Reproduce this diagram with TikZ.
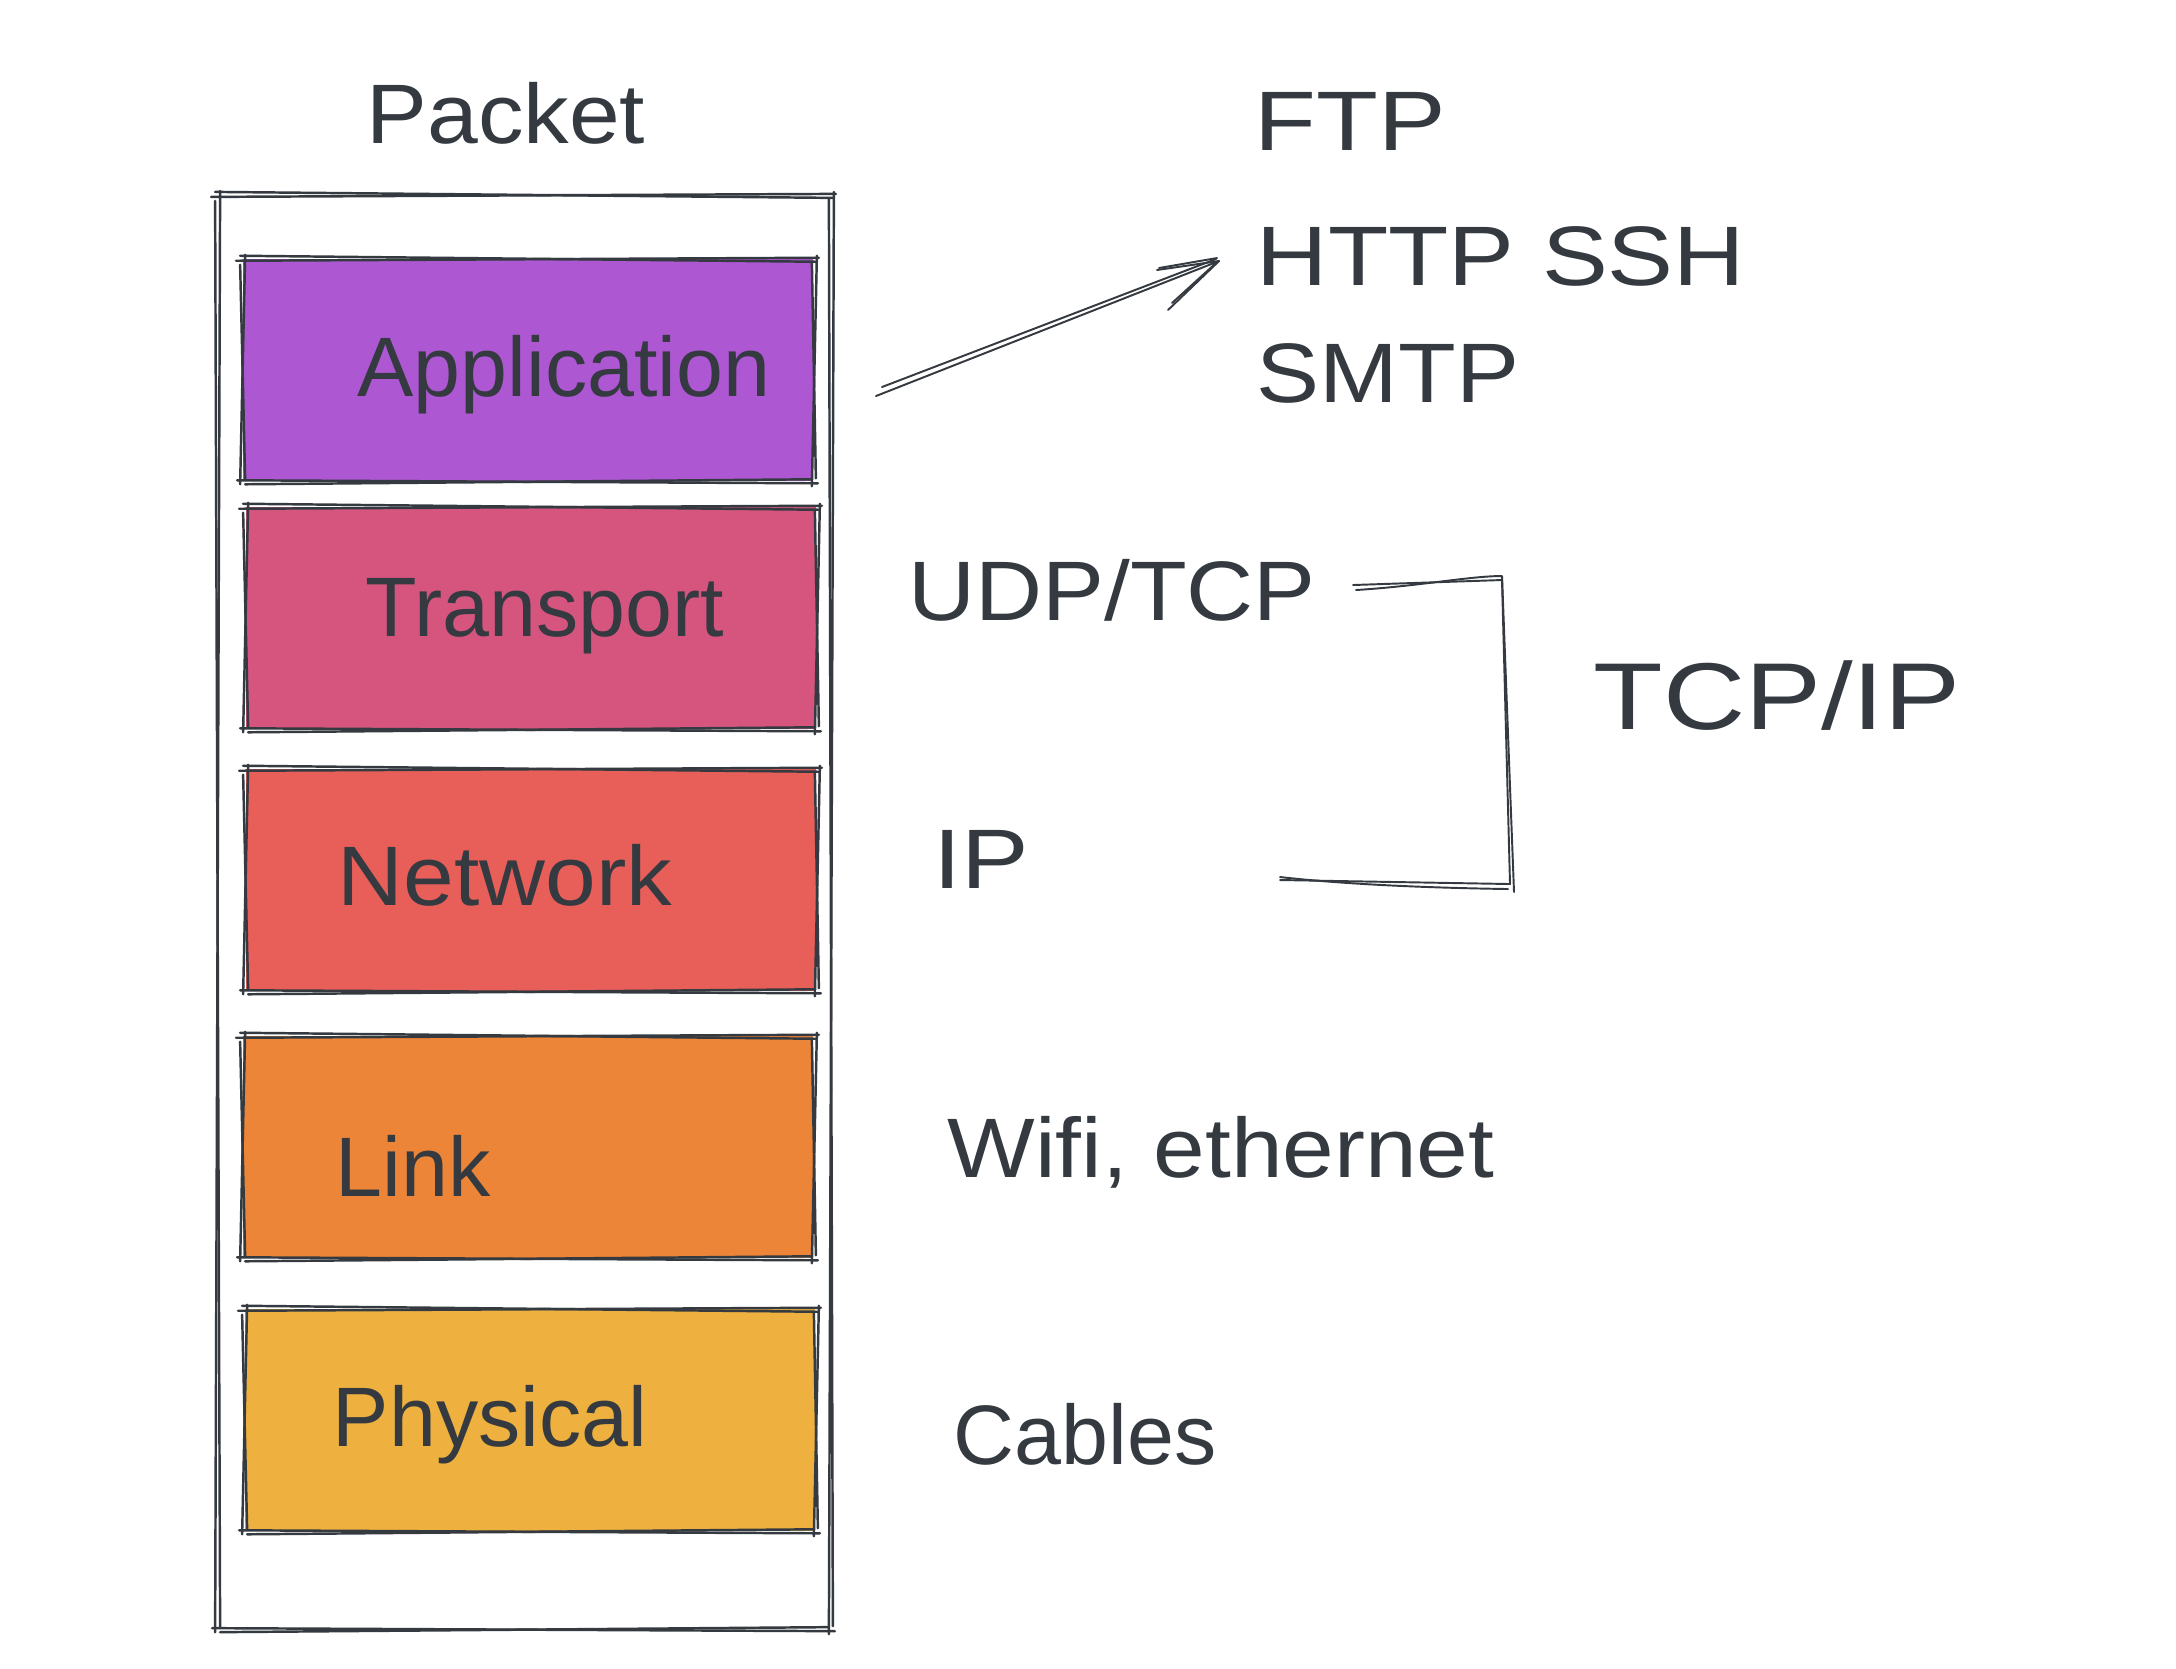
\documentclass[tikz,border=0pt]{standalone}
\usepackage{fontspec}
\setmainfont{Liberation Sans}
\definecolor{inkc}{HTML}{343A40}
\definecolor{appc}{HTML}{AE57D2}
\definecolor{trnc}{HTML}{D5557F}
\definecolor{netc}{HTML}{E85F5A}
\definecolor{lnkc}{HTML}{EC8538}
\definecolor{phyc}{HTML}{EEB13F}

% hand-drawn outline: every edge stroked twice with small offsets
\newcommand\roughframe[1]{%
  \draw[ink] ([shift={(-6,2)}]#1.north west) -- ([shift={(5,-1)}]#1.north east);
  \draw[ink] ([shift={(-2,-3)}]#1.north west) -- ([shift={(3,3)}]#1.north east);
  \draw[ink] ([shift={(3,-3)}]#1.north east) -- ([shift={(-2,5)}]#1.south east);
  \draw[ink] ([shift={(-2,4)}]#1.north east) -- ([shift={(2,-3)}]#1.south east);
  \draw[ink] ([shift={(4,2)}]#1.south east) -- ([shift={(-5,-1)}]#1.south west);
  \draw[ink] ([shift={(-2,-2)}]#1.south east) -- ([shift={(3,3)}]#1.south west);
  \draw[ink] ([shift={(-2,3)}]#1.south west) -- ([shift={(3,-4)}]#1.north west);
  \draw[ink] ([shift={(3,-2)}]#1.south west) -- ([shift={(-2,6)}]#1.north west);
}
% capitals are set wide, as hand lettering is
\newcommand\wide[2]{\scalebox{#1}[1]{#2}}

\begin{document}
\begin{tikzpicture}[x=0.01cm,y=-0.01cm,
  ink/.style={draw=inkc, line width=0.7pt, line cap=round, line join=round},
  thinink/.style={draw=inkc, line width=0.55pt, line cap=round, line join=round},
  layer/.style={draw=none, inner sep=0, minimum width=5.70cm, minimum height=2.21cm},
  lbl/.style={text=inkc, inner sep=0, anchor=base, font=\fontsize{24}{28}\selectfont},
  capslbl/.style={lbl, font=\fontsize{24}{28}\selectfont}]

\fill[white] (0,0) rectangle (2176,1668);
\useasboundingbox (0,0) rectangle (2176,1668);

% the packet frame
\node[draw=none, inner sep=0, minimum width=6.12cm, minimum height=14.32cm] (stack) at (524,912) {};
\roughframe{stack}

% protocol layers
\node[layer, fill=appc] (app) at (528,370) {};
\node[layer, fill=trnc] (trn) at (531,618) {};
\node[layer, fill=netc] (net) at (531,880) {};
\node[layer, fill=lnkc] (lnk) at (528,1147) {};
\node[layer, fill=phyc] (phy) at (530,1420) {};
\foreach \n in {app,trn,net,lnk,phy} {\roughframe{\n}}

% layer names
\node[lbl] (packet) at (506,143) {\wide{1.08}{Packet}};
\node[lbl] (tapp) at (564,396) {Application};
\node[lbl] (ttrn) at (545,636) {Transport};
\node[lbl] (tnet) at (505,905) {\wide{1.08}{Network}};
\node[lbl] (tlnk) at (413,1196) {Link};
\node[lbl] (tphy) at (490,1446) {Physical};

% protocols of each layer
\node[capslbl] (ftp) at (1350,150) {\wide{1.2}{FTP}};
\node[capslbl] (http) at (1501,285) {\wide{1.17}{HTTP SSH}};
\node[capslbl] (smtp) at (1388,402) {\wide{1.12}{SMTP}};
\node[capslbl] (udp) at (1112,620) {\wide{1.1}{UDP/TCP}};
\node[capslbl] (ip) at (981,888) {\wide{1.2}{IP}};
\node[capslbl, font=\fontsize{27}{31}\selectfont] (tcpip) at (1777,729) {\wide{1.2}{TCP/IP}};
\node[lbl] (wifi) at (1221,1177) {\wide{1.1}{Wifi, ethernet}};
\node[lbl] (cables) at (1085,1464) {Cables};

% arrow from the application layer to its protocols
\coordinate (arrtail) at (876,396);
\coordinate (arrtip) at (1219,261);
\draw[thinink] (arrtail) -- (arrtip);
\draw[thinink] ([shift={(6,-9)}]arrtail) -- ([shift={(-3,-2)}]arrtip);
\draw[thinink] (arrtip) -- ++(-62,9);
\draw[thinink] ([shift={(-2,-3)}]arrtip) -- ++(-58,10);
\draw[thinink] (arrtip) -- ++(-51,49);
\draw[thinink] ([shift={(-3,2)}]arrtip) -- ++(-44,40);

% bracket grouping transport and network as TCP/IP
\coordinate (brA) at (1353,585);
\coordinate (brB) at (1502,580);
\coordinate (brC) at (1510,884);
\coordinate (brD) at (1280,880);
\draw[thinink] (brA) -- (brB) -- (brC) -- (brD);
\draw[thinink] ([shift={(3,5)}]brA) .. controls (1420,586) and (1470,576) .. ([shift={(0,-4)}]brB) -- ([shift={(4,8)}]brC);
\draw[thinink] ([shift={(0,-3)}]brD) .. controls (1350,885) and (1440,888) .. ([shift={(-2,5)}]brC);
\end{tikzpicture}
\end{document}
